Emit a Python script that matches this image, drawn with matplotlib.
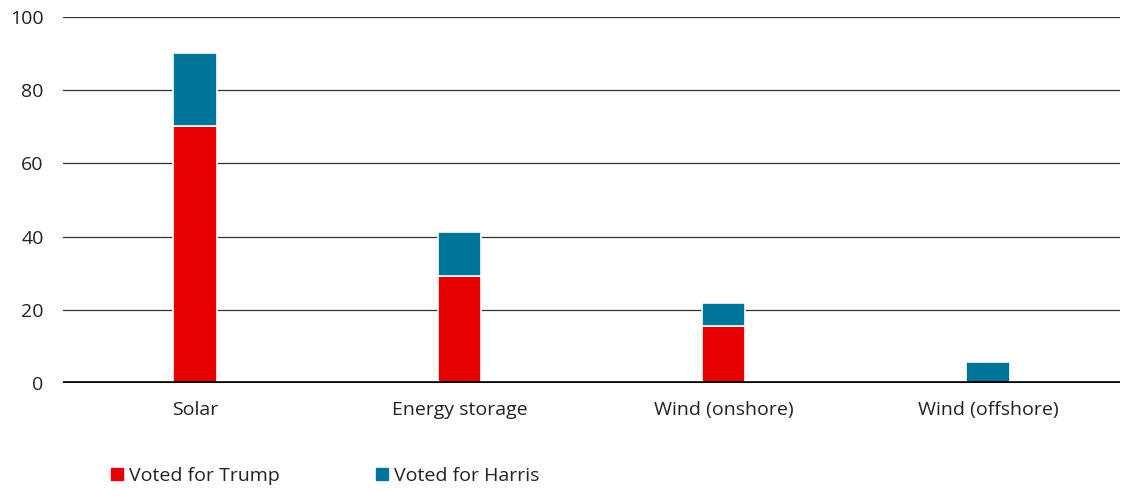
import matplotlib
matplotlib.use("Agg")
import matplotlib.pyplot as plt
from matplotlib.lines import Line2D
import numpy as np

categories = ["Solar", "Energy storage", "Wind (onshore)", "Wind (offshore)"]
trump = [70.2, 29.2, 15.7, 0.0]
harris = [20.1, 12.1, 6.3, 5.7]
series_labels = ["Voted for Trump", "Voted for Harris"]
yticks = [0, 20, 40, 60, 80, 100]

RED = "#E60000"
BLUE = "#00759A"

plt.rcParams["font.family"] = ["Open Sans", "DejaVu Sans"]

fig = plt.figure(figsize=(11.28, 4.90), dpi=100)
ax = fig.add_axes([0.0559, 0.2184, 0.937, 0.7466])

x = np.arange(len(categories))
w = 0.165
ax.bar(x, trump, width=w, color=RED, edgecolor="white", linewidth=1.2, zorder=3)
ax.bar(x, harris, width=w, bottom=trump, color=BLUE, edgecolor="white", linewidth=1.2, zorder=3)

ax.set_xlim(-0.5, len(categories) - 0.5)
ax.set_ylim(0, 100)
ax.set_yticks(yticks)
ax.set_yticklabels([str(v) for v in yticks])
ax.set_xticks(x)
ax.set_xticklabels(categories)

for v in yticks[1:]:
    ax.axhline(v, color="#333333", linewidth=0.9, zorder=1)
ax.axhline(0, color="black", linewidth=2.6, zorder=4)

for s in ax.spines.values():
    s.set_visible(False)
ax.tick_params(axis="both", length=0, labelsize=14, colors="#222222")
ax.tick_params(axis="y", pad=14)
ax.tick_params(axis="x", pad=13)

handles = [
    Line2D([], [], marker="s", linestyle="none", markersize=8, color=RED),
    Line2D([], [], marker="s", linestyle="none", markersize=8, color=BLUE),
]
fig.legend(handles, series_labels, loc="center left", bbox_to_anchor=(0.083, 0.029),
           ncol=2, frameon=False, fontsize=14, handlelength=0.6, handletextpad=0.3,
           columnspacing=5.0, labelcolor="#222222")

fig.savefig("out.png", dpi=100)
